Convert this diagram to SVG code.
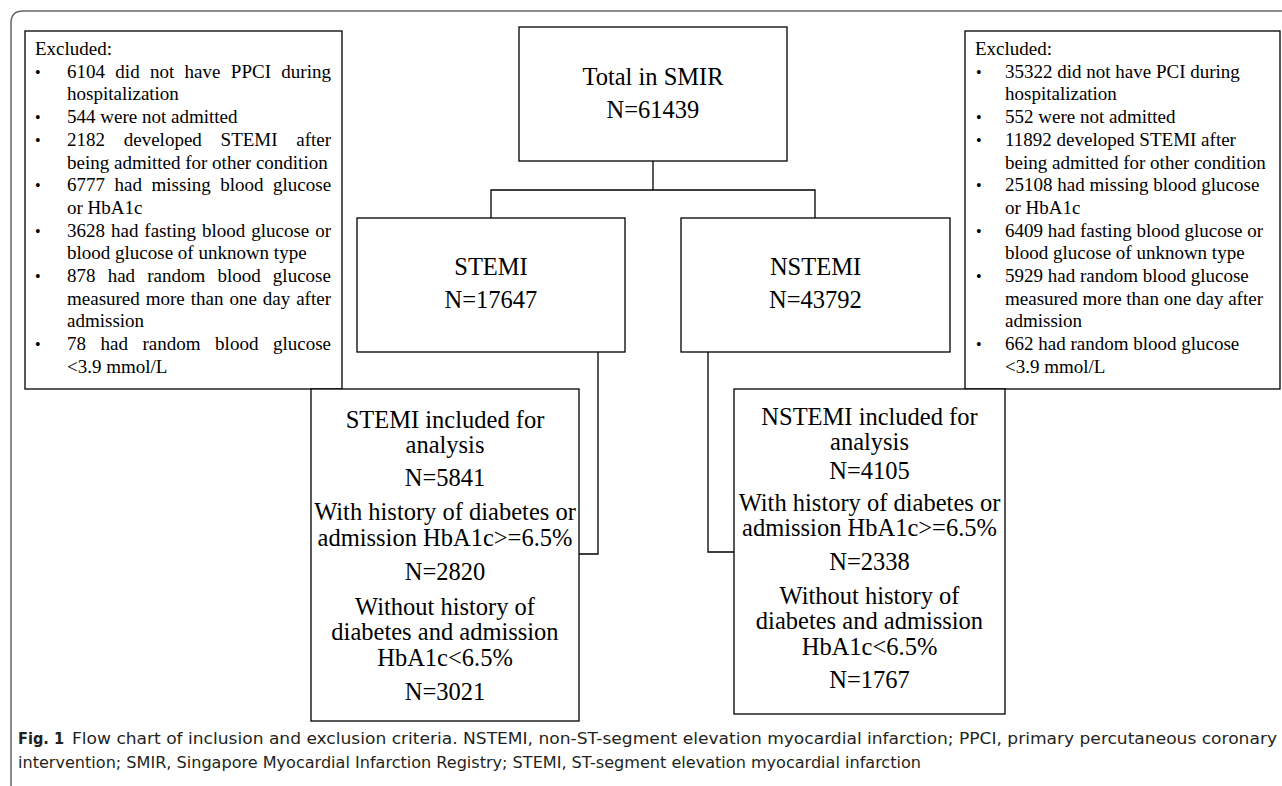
<svg xmlns="http://www.w3.org/2000/svg" width="1282" height="786" viewBox="0 0 1282 786">
<style>
.box{fill:#fff;stroke:#000;stroke-width:1.3}
.conn{fill:none;stroke:#000;stroke-width:1.3}
.frame{fill:none;stroke:#666;stroke-width:1.5}
.ex{font-family:"Liberation Serif","Times New Roman",serif;font-size:19px;fill:#000}
.bul{font-family:"Liberation Serif","Times New Roman",serif;font-size:16px;fill:#000}
.mid{font-family:"Liberation Serif","Times New Roman",serif;font-size:24.5px;fill:#000;text-anchor:middle}
.cap{font-family:"DejaVu Sans Condensed","Liberation Sans Narrow","Liberation Sans",sans-serif;font-size:16px;fill:#231f20}
.capb{font-weight:bold}
</style>
<rect width="1282" height="786" fill="#fff"/>
<path class="frame" d="M11,786 V23 Q11,11 23,11 H1282"/>

<g id="connectors">
<path class="conn" d="M653,161 V190"/>
<path class="conn" d="M491,218 V190 H815 V218"/>
<path class="conn" d="M598,352 V554 H579"/>
<path class="conn" d="M708,352 V552 H734"/>
</g>

<g id="excluded-left">
<rect class="box" x="25" y="31" width="317" height="358"/>
<text class="ex" x="35" y="55">Excluded:</text>
<text class="bul" x="35" y="78">•</text>
<text class="ex" x="67" y="77.7" style="word-spacing:5.6px">6104 did not have PPCI during</text>
<text class="ex" x="67" y="100.4">hospitalization</text>
<text class="bul" x="35" y="123">•</text>
<text class="ex" x="67" y="123.1">544 were not admitted</text>
<text class="bul" x="35" y="146">•</text>
<text class="ex" x="67" y="145.8" style="word-spacing:14px">2182 developed STEMI after</text>
<text class="ex" x="67" y="168.5">being admitted for other condition</text>
<text class="bul" x="35" y="191">•</text>
<text class="ex" x="67" y="191.2" style="word-spacing:4.8px">6777 had missing blood glucose</text>
<text class="ex" x="67" y="213.9">or HbA1c</text>
<text class="bul" x="35" y="237">•</text>
<text class="ex" x="67" y="236.6" style="word-spacing:1.2px">3628 had fasting blood glucose or</text>
<text class="ex" x="67" y="259.3">blood glucose of unknown type</text>
<text class="bul" x="35" y="282">•</text>
<text class="ex" x="67" y="282" style="word-spacing:7.4px">878 had random blood glucose</text>
<text class="ex" x="67" y="304.7" style="word-spacing:1.2px">measured more than one day after</text>
<text class="ex" x="67" y="327.4">admission</text>
<text class="bul" x="35" y="350">•</text>
<text class="ex" x="67" y="350.1" style="word-spacing:9.8px">78 had random blood glucose</text>
<text class="ex" x="67" y="372.8">&lt;3.9 mmol/L</text>
</g>

<g id="excluded-right">
<rect class="box" x="965" y="31" width="315" height="358"/>
<text class="ex" x="975" y="55">Excluded:</text>
<text class="bul" x="976" y="78">•</text>
<text class="ex" x="1005" y="77.7">35322 did not have PCI during</text>
<text class="ex" x="1005" y="100.4">hospitalization</text>
<text class="bul" x="976" y="123">•</text>
<text class="ex" x="1005" y="123.1">552 were not admitted</text>
<text class="bul" x="976" y="146">•</text>
<text class="ex" x="1005" y="145.8">11892 developed STEMI after</text>
<text class="ex" x="1005" y="168.5">being admitted for other condition</text>
<text class="bul" x="976" y="191">•</text>
<text class="ex" x="1005" y="191.2">25108 had missing blood glucose</text>
<text class="ex" x="1005" y="213.9">or HbA1c</text>
<text class="bul" x="976" y="237">•</text>
<text class="ex" x="1005" y="236.6">6409 had fasting blood glucose or</text>
<text class="ex" x="1005" y="259.3">blood glucose of unknown type</text>
<text class="bul" x="976" y="282">•</text>
<text class="ex" x="1005" y="282">5929 had random blood glucose</text>
<text class="ex" x="1005" y="304.7">measured more than one day after</text>
<text class="ex" x="1005" y="327.4">admission</text>
<text class="bul" x="976" y="350">•</text>
<text class="ex" x="1005" y="350.1">662 had random blood glucose</text>
<text class="ex" x="1005" y="372.8">&lt;3.9 mmol/L</text>
</g>

<g id="total">
<rect class="box" x="519" y="27" width="268" height="134"/>
<text class="mid" x="653" y="85">Total in SMIR</text>
<text class="mid" x="653" y="118">N=61439</text>
</g>

<g id="stemi">
<rect class="box" x="357" y="218" width="268" height="134"/>
<text class="mid" x="491" y="275">STEMI</text>
<text class="mid" x="491" y="308">N=17647</text>
</g>

<g id="nstemi">
<rect class="box" x="681" y="218" width="269" height="134"/>
<text class="mid" x="815.5" y="275">NSTEMI</text>
<text class="mid" x="815.5" y="308">N=43792</text>
</g>

<g id="stemi-included">
<rect class="box" x="311" y="389" width="268" height="332"/>
<text class="mid" x="445" y="428">STEMI included for</text>
<text class="mid" x="445" y="453">analysis</text>
<text class="mid" x="445" y="486">N=5841</text>
<text class="mid" x="445" y="520">With history of diabetes or</text>
<text class="mid" x="445" y="546">admission HbA1c&gt;=6.5%</text>
<text class="mid" x="445" y="580">N=2820</text>
<text class="mid" x="445" y="615">Without history of</text>
<text class="mid" x="445" y="640">diabetes and admission</text>
<text class="mid" x="445" y="666">HbA1c&lt;6.5%</text>
<text class="mid" x="445" y="700">N=3021</text>
</g>

<g id="nstemi-included">
<rect class="box" x="734" y="389" width="271" height="325"/>
<text class="mid" x="869.5" y="425">NSTEMI included for</text>
<text class="mid" x="869.5" y="450">analysis</text>
<text class="mid" x="869.5" y="479">N=4105</text>
<text class="mid" x="869.5" y="511">With history of diabetes or</text>
<text class="mid" x="869.5" y="536">admission HbA1c&gt;=6.5%</text>
<text class="mid" x="869.5" y="570">N=2338</text>
<text class="mid" x="869.5" y="604">Without history of</text>
<text class="mid" x="869.5" y="629">diabetes and admission</text>
<text class="mid" x="869.5" y="655">HbA1c&lt;6.5%</text>
<text class="mid" x="869.5" y="688">N=1767</text>
</g>

<g id="caption">
<text class="cap capb" x="18" y="744" textLength="46" lengthAdjust="spacingAndGlyphs">Fig. 1</text>
<text class="cap" x="72" y="744" textLength="1205" lengthAdjust="spacingAndGlyphs">Flow chart of inclusion and exclusion criteria. NSTEMI, non-ST-segment elevation myocardial infarction; PPCI, primary percutaneous coronary</text>
<text class="cap" x="18" y="768" textLength="903" lengthAdjust="spacingAndGlyphs">intervention; SMIR, Singapore Myocardial Infarction Registry; STEMI, ST-segment elevation myocardial infarction</text>
</g>
</svg>
